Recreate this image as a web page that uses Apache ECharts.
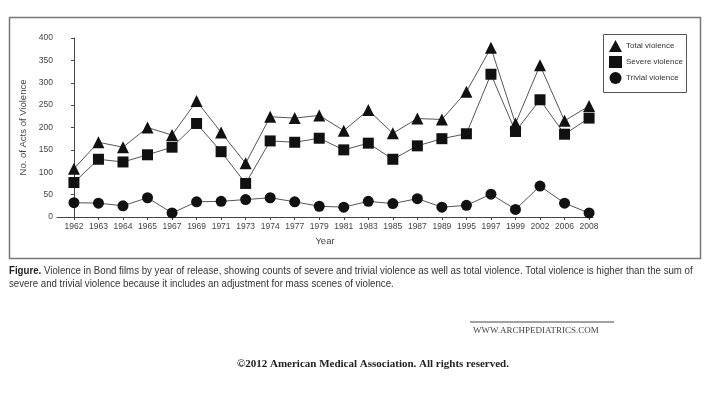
<!DOCTYPE html>
<html>
<head>
<meta charset="utf-8">
<script src="https://cdn.jsdelivr.net/npm/echarts@6/dist/echarts.min.js"></script>
<style>
  html, body { margin: 0; padding: 0; background: #fff; }
  #chart { width: 710px; height: 399px; }
</style>
</head>
<body>
<div id="chart"></div>
<script>
// film release years and counts
const years = ['1962', '1963', '1964', '1965', '1967', '1969', '1971', '1973', '1974', '1977', '1979',
               '1981', '1983', '1985', '1987', '1989', '1995', '1997', '1999', '2002', '2006', '2008']
const totalViolence   = [108, 167, 156, 200, 183, 259, 189, 120, 224, 221, 227, 193, 239, 187, 220, 218, 280, 378, 209, 339, 215, 248]
const severeViolence  = [77, 129, 123, 139, 156, 209, 146, 75, 170, 167, 176, 150, 165, 129, 159, 175, 186, 319, 191, 262, 185, 221]
const trivialViolence = [32, 31, 25, 43, 9, 34, 35, 39, 43, 34, 24, 22, 35, 30, 41, 22, 26, 51, 17, 69, 31, 9]

const font = '"Liberation Sans", Arial, sans-serif'
const serif = '"Liberation Serif", "DejaVu Serif", serif'
const idx = years.map((y, i) => i)
const pairs = arr => arr.map((v, i) => [i, v])

const chart = echarts.init(document.getElementById('chart'))

const lineSeries = (name, data, symbol, size) => ({
    name: name,
    type: 'line',
    data: pairs(data),
    symbol: symbol,
    symbolSize: size,
    lineStyle: { color: '#555', width: 1 },
    itemStyle: { color: '#111' },
    emphasis: { disabled: true }
})

chart.setOption({
    animation: false,
    grid: { left: 57, top: 38, width: 536, height: 179 },
    xAxis: {
        type: 'value',
        min: -0.69,
        max: 21.16,
        name: 'Year',
        nameLocation: 'middle',
        nameGap: 19,
        nameTextStyle: { fontFamily: font, fontSize: 9.5, color: '#444' },
        splitLine: { show: false },
        axisLine: { lineStyle: { color: '#444', width: 1 } },
        axisTick: { customValues: idx, length: 3, lineStyle: { color: '#444' } },
        axisLabel: {
            customValues: idx,
            formatter: v => years[v],
            fontFamily: font, fontSize: 8.5, color: '#444', margin: 5
        }
    },
    yAxis: {
        type: 'value',
        min: 0,
        max: 400,
        interval: 50,
        name: 'No. of Acts of Violence',
        nameLocation: 'middle',
        nameGap: 20,
        nameTextStyle: { fontFamily: font, fontSize: 9.5, color: '#444' },
        splitLine: { show: false },
        axisLine: { show: true, lineStyle: { color: '#444', width: 1 } },
        axisTick: { show: true, length: 3, lineStyle: { color: '#444' } },
        axisLabel: { fontFamily: font, fontSize: 8.5, color: '#444', margin: 4 }
    },
    legend: {
        orient: 'vertical',
        left: 609,
        top: 40,
        padding: 0,
        itemGap: 4,
        itemWidth: 13,
        itemHeight: 12,
        textStyle: { fontFamily: font, fontSize: 8, color: '#333', padding: [0, 0, 0, -1] },
        data: [
            { name: 'Total violence', icon: 'triangle' },
            { name: 'Severe violence', icon: 'rect' },
            { name: 'Trivial violence', icon: 'circle' }
        ]
    },
    graphic: [
        { type: 'rect', shape: { x: 9.5, y: 17.5, width: 691, height: 241 },
          style: { fill: 'none', stroke: '#777', lineWidth: 1.5 }, silent: true },
        { type: 'rect', shape: { x: 603.5, y: 34.5, width: 83, height: 58 },
          style: { fill: 'none', stroke: '#555', lineWidth: 1 }, silent: true },
        { type: 'text', x: 9, y: 264, scaleX: 0.88,
          style: { text: '{b|Figure.} Violence in Bond films by year of release, showing counts of severe and trivial violence as well as total violence. Total violence is higher than the sum of\nsevere and trivial violence because it includes an adjustment for mass scenes of violence.',
                   fontFamily: font, fontSize: 11, fill: '#333', lineHeight: 13,
                   rich: { b: { fontFamily: font, fontSize: 11, fontWeight: 'bold', fill: '#222' } } } },
        { type: 'line', shape: { x1: 470, y1: 322, x2: 614, y2: 322 },
          style: { stroke: '#444', lineWidth: 1 } },
        { type: 'text', left: 473, top: 326,
          style: { text: 'WWW.ARCHPEDIATRICS.COM', fontFamily: serif, fontSize: 9, fill: '#444' } },
        { type: 'text', left: 237, top: 359,
          style: { text: '©2012 American Medical Association. All rights reserved.', fontFamily: serif, fontSize: 11, fontWeight: 'bold', fill: '#222' } }
    ],
    series: [
        lineSeries('Total violence', totalViolence, 'triangle', 12),
        lineSeries('Severe violence', severeViolence, 'rect', 11),
        lineSeries('Trivial violence', trivialViolence, 'circle', 11)
    ]
})
</script>
</body>
</html>
